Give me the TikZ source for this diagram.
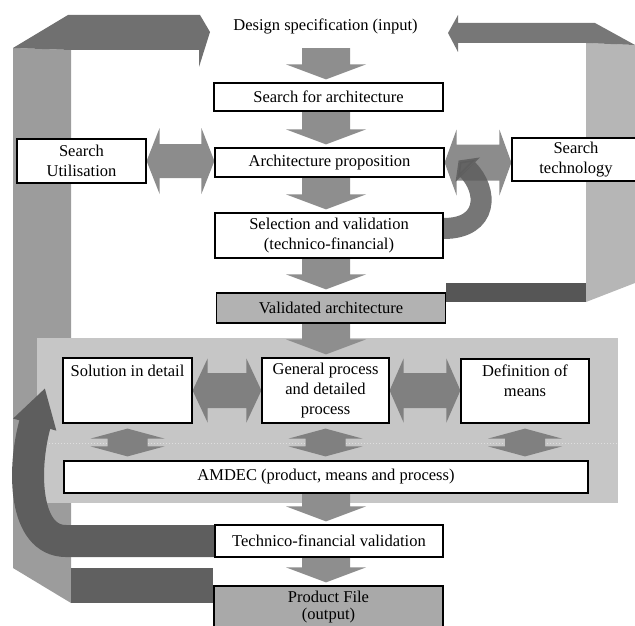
\documentclass[tikz,border=0pt]{standalone}
\usepackage{fontspec}
\setmainfont{Liberation Serif}
\usetikzlibrary{calc,arrows.meta}

\definecolor{flowgray}{HTML}{8E8E8E}
\definecolor{duogray}{HTML}{8C8C8C}
\definecolor{innergray}{HTML}{808080}
\definecolor{panelgray}{HTML}{C6C6C6}
\definecolor{leftbar}{HTML}{9C9C9C}
\definecolor{leftband}{HTML}{707070}
\definecolor{rightbar}{HTML}{B6B6B6}
\definecolor{rightband}{HTML}{777777}
\definecolor{darkband}{HTML}{606060}
\definecolor{curlgray}{HTML}{5E5E5E}
\definecolor{validgray}{HTML}{B2B2B2}

\newcommand{\boxfont}{\fontsize{16.5}{20}\selectfont}

\pgfdeclarelayer{back}
\pgfsetlayers{back,main}

% wide down arrow between two stacked nodes
\newcommand{\flowarrow}[2]{%
  \fill[flow] ($(spine |- #1.south)+(-24,0)$) -- ($(spine |- #1.south)+(24,0)$)
    -- ($(spine |- #2.north)+(24,-18)$) -- ($(spine |- #2.north)+(40,-18)$)
    -- ($(spine |- #2.north)+(0,-3)$) -- ($(spine |- #2.north)+(-40,-18)$)
    -- ($(spine |- #2.north)+(-24,-18)$) -- cycle;}

% horizontal double arrow: left node, right node, shaft half, head half, head length
\newcommand{\duoarrow}[6]{%
  \fill[#6] let \p1=(#1.east), \p2=(#2.west) in
    (\x1,\y1) -- (\x1+#5pt,\y1+#4pt) -- (\x1+#5pt,\y1+#3pt) -- (\x2-#5pt,\y1+#3pt)
    -- (\x2-#5pt,\y1+#4pt) -- (\x2,\y1) -- (\x2-#5pt,\y1-#4pt) -- (\x2-#5pt,\y1-#3pt)
    -- (\x1+#5pt,\y1-#3pt) -- (\x1+#5pt,\y1-#4pt) -- cycle;}

% flat vertical double arrow from a node down to the AMDEC bar
\newcommand{\vduoarrow}[1]{%
  \fill[inner] let \p1=(#1.south), \p2=(#1.south |- amdec.north) in
    (\x1,\y1-5pt) -- (\x1+37pt,\y1-15pt) -- (\x1+20pt,\y1-15pt) -- (\x1+20pt,\y2+14pt)
    -- (\x1+37pt,\y2+14pt) -- (\x1,\y2+4pt) -- (\x1-37pt,\y2+14pt) -- (\x1-20pt,\y2+14pt)
    -- (\x1-20pt,\y1-15pt) -- (\x1-37pt,\y1-15pt) -- cycle;}

\begin{document}
\begin{tikzpicture}[x=1pt, y=-1pt,
    box/.style={rectangle, draw=black, line width=1.2pt, fill=white, align=center, font=\boxfont, inner sep=2pt},
    plain/.style={align=center, font=\boxfont, inner sep=2pt},
    flow/.style={fill=flowgray},
    duo/.style={fill=duogray},
    inner/.style={fill=innergray},
    curl/.style={draw=curlgray},
]
\useasboundingbox (0,0) rectangle (635,626);
\clip (0,0) rectangle (635,626);
\coordinate (spine) at (326,0);

% Main column
\node[plain, minimum height=44pt] (design) at (325.5,26) {Design specification (input)};
\node[box, minimum width=229pt, minimum height=28pt] (search) at (328.5,97) {Search for architecture};
\node[box, minimum width=229pt, minimum height=29pt] (archprop) at (329.5,162.5) {Architecture proposition};
\node[box, minimum width=228pt, minimum height=45pt] (select) at (329,235.5) {Selection and validation\\(technico-financial)};
\node[box, fill=validgray, minimum width=229pt, minimum height=30pt] (valid) at (331,308) {Validated architecture};

% Side searches
\node[box, minimum width=129pt, minimum height=44pt] (searchutil) at (81.5,161) {Search\\Utilisation};
\node[box, minimum width=128pt, minimum height=43pt] (searchtech) at (576,159.5) {Search\\technology};

% Detailed design panel
\node[box, minimum width=129pt, minimum height=65pt] (solution) at (127.5,390.5) {Solution in detail\\~\\~};
\node[box, minimum width=127pt, minimum height=65pt] (general) at (325.5,390.5) {General process\\and detailed\\process};
\node[box, minimum width=128pt, minimum height=64pt] (means) at (525,391) {Definition of\\means\\~};
\node[box, minimum width=524pt, minimum height=32pt] (amdec) at (326,477) {AMDEC (product, means and process)};

% Final stages
\node[box, minimum width=228pt, minimum height=32pt] (techval) at (329,541) {Technico-financial validation};
\node[box, fill=validgray!95!black, minimum width=229pt, minimum height=42pt,
      font=\fontsize{16.5}{17.5}\selectfont] (product) at (328.5,607) {Product File\\(output)};

\begin{pgfonlayer}{back}
% Feedback loop on the left
\fill[leftbar] (13,48) -- (71,50) -- (71,603) -- (13,568) -- cycle;
\fill[leftband] (13,48) -- (68,15) -- (200,15) -- (210,32) -- (199,67) -- (199,50) -- (71,50) -- cycle;
\fill[darkband] (71,568) rectangle (product.west |- 0,603);

% Feedback loop on the right
\fill[rightbar] (586,43) -- (635,45) -- (635,283) -- (586,302) -- cycle;
\fill[rightband] (448,33) -- (458,15) -- (458,23) -- (595,23) -- (635,45) -- (586,43) -- (458,43) -- (458,52) -- cycle;
\fill[darkband!90!black] (valid.east |- 0,283) rectangle (586,302);

% Panel
\fill[panelgray] (37,338) rectangle (618,503);
\draw[white!75!gray, dotted, line width=1pt] (37,443) -- (618,443);

% Down arrows
\flowarrow{design}{search}
\flowarrow{search}{archprop}
\flowarrow{archprop}{select}
\flowarrow{select}{valid}
\flowarrow{valid}{general}
\flowarrow{amdec}{techval}
\flowarrow{techval}{product}

% Exchanges
\duoarrow{searchutil}{archprop}{17}{33}{13}{duo}
\duoarrow{archprop}{searchtech}{18}{33}{12}{duo}
\duoarrow{solution}{general}{17.5}{32}{15}{inner}
\duoarrow{general}{means}{17.5}{32}{14}{inner}
\vduoarrow{solution}
\vduoarrow{general}
\vduoarrow{means}

% Return arrows
\draw[curl, opacity=0.85, line width=21pt, -{Triangle[width=34pt,length=13pt]}]
  ($(select.east)+(0,-7)$) .. controls +(45,0) and +(30,30) .. ($(archprop.east)+(14,-2)$);
\draw[curl, line width=32pt, -{Triangle[width=42pt,length=38pt]}]
  (techval.west) -- (66,541) .. controls (24,541) and (22,470) .. (45,388);
\end{pgfonlayer}
\end{tikzpicture}
\end{document}
